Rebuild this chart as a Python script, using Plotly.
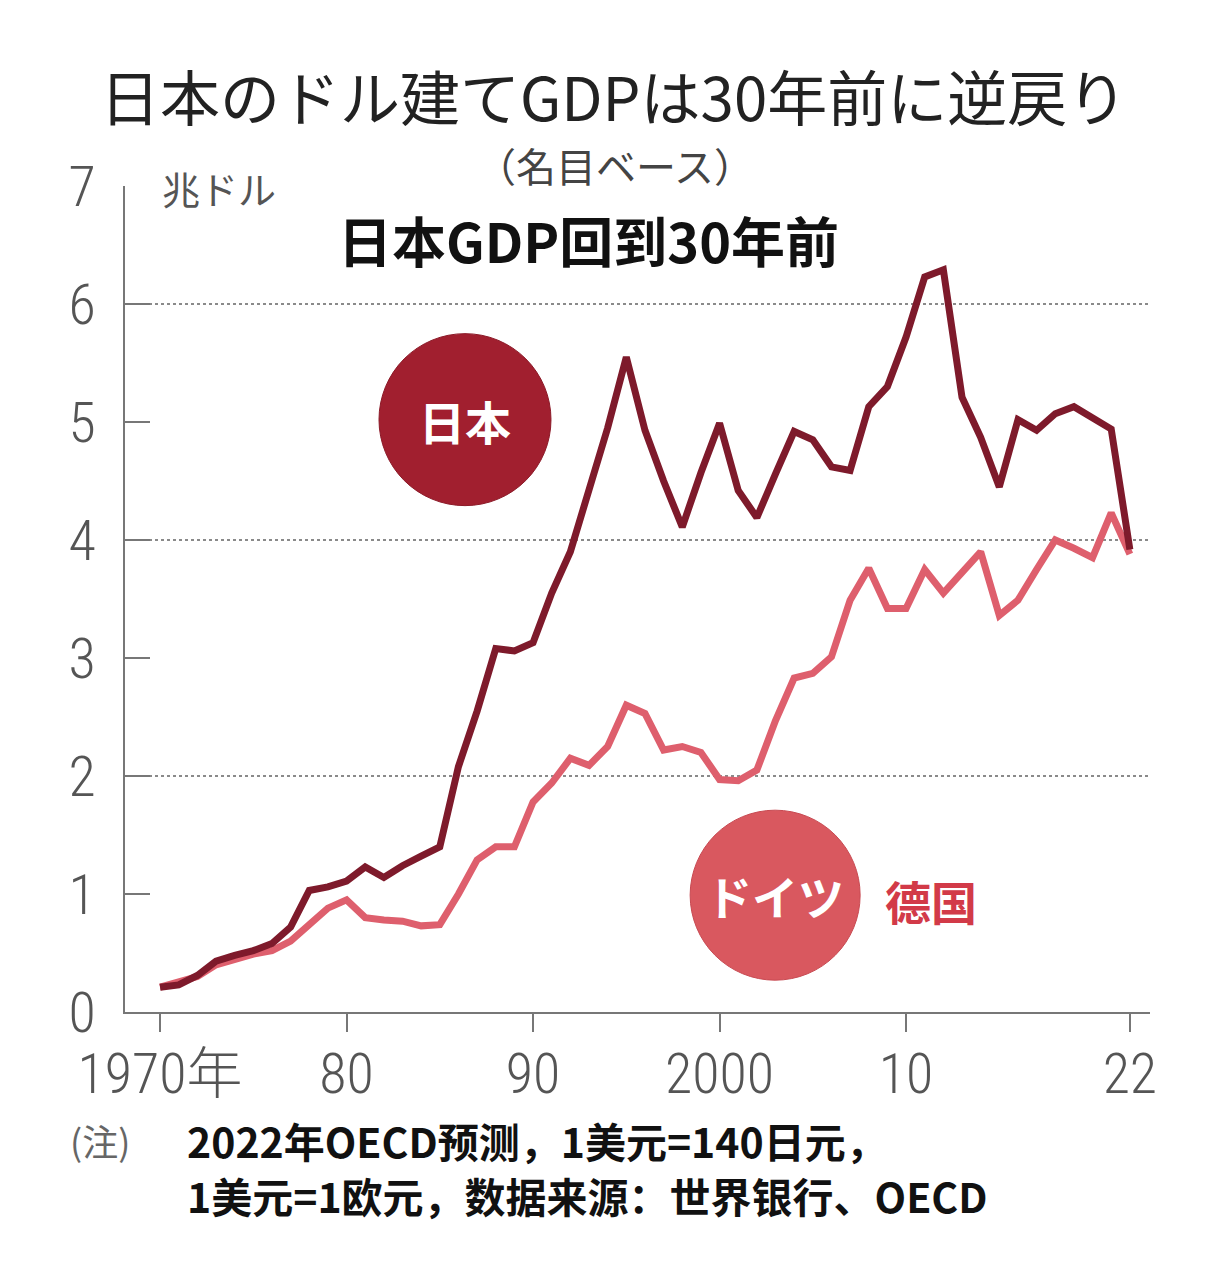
import plotly.graph_objects as go

years = list(range(1970, 2023))
japan = [0.21, 0.23, 0.31, 0.43, 0.48, 0.52, 0.58, 0.72, 1.03, 1.06,
         1.11, 1.23, 1.14, 1.24, 1.32, 1.40, 2.08, 2.55, 3.08, 3.06,
         3.13, 3.55, 3.90, 4.42, 4.95, 5.55, 4.93, 4.50, 4.11, 4.57,
         4.99, 4.42, 4.19, 4.56, 4.92, 4.85, 4.62, 4.59, 5.13, 5.30,
         5.72, 6.23, 6.29, 5.21, 4.87, 4.45, 5.02, 4.93, 5.07, 5.13,
         5.04, 4.94, 3.92]
germany = [0.21, 0.25, 0.30, 0.40, 0.45, 0.49, 0.52, 0.60, 0.74, 0.88,
           0.95, 0.80, 0.78, 0.77, 0.73, 0.74, 1.00, 1.29, 1.40, 1.40,
           1.78, 1.94, 2.15, 2.09, 2.25, 2.60, 2.53, 2.22, 2.25, 2.20,
           1.97, 1.96, 2.05, 2.47, 2.83, 2.87, 3.01, 3.49, 3.76, 3.42,
           3.42, 3.75, 3.55, 3.73, 3.90, 3.36, 3.49, 3.75, 4.00, 3.93,
           3.85, 4.23, 3.88]

x_tickvals = [1970, 1980, 1990, 2000, 2010, 2022]
x_ticktext = ["1970年", "80", "90", "2000", "10", "22"]
y_tickvals = [0, 1, 2, 3, 4, 5, 6, 7]
grid_vals = [2, 4, 6]

JP_LINE = "#7e1a2b"
DE_LINE = "#de5f6d"
JP_CIRC = "#a11f2f"
DE_CIRC = "#d9585f"
NUM_FONT = "Roboto Condensed, Noto Sans CJK JP, sans-serif"
JP_FONT = "Noto Sans CJK JP"
SC_FONT = "Noto Sans CJK SC"

fig = go.Figure()
fig.add_trace(go.Scatter(x=years, y=germany, mode="lines",
                         line=dict(color=DE_LINE, width=7), hoverinfo="skip"))
fig.add_trace(go.Scatter(x=years, y=japan, mode="lines",
                         line=dict(color=JP_LINE, width=7), hoverinfo="skip"))

shapes = []
for g in grid_vals:
    shapes.append(dict(type="line", xref="paper", yref="y", x0=0, x1=1, y0=g, y1=g,
                       line=dict(color="#8a8a8a", width=2, dash="dot"), layer="below"))
shapes.append(dict(type="circle", xref="x", yref="y", xsizemode="pixel", ysizemode="pixel",
                   xanchor=1986.35, yanchor=5.02, x0=-86, x1=86, y0=-86, y1=86,
                   fillcolor=JP_CIRC, line=dict(color="#8c1a28", width=1)))
shapes.append(dict(type="circle", xref="x", yref="y", xsizemode="pixel", ysizemode="pixel",
                   xanchor=2002.98, yanchor=0.99, x0=-85, x1=85, y0=-85, y1=85,
                   fillcolor=DE_CIRC, line=dict(color="#c84a52", width=1)))

annotations = [
    dict(text="日本のドル建てGDPは30年前に逆戻り", x=0.477, y=1.111, xref="paper", yref="paper",
         showarrow=False, font=dict(family=JP_FONT, size=60, color="#222"), xanchor="center", yanchor="middle"),
    dict(text="（名目ベース）", x=0.478, y=1.026, xref="paper", yref="paper",
         showarrow=False, font=dict(family=JP_FONT, size=40, color="#444"), xanchor="center", yanchor="middle"),
    dict(text="<b>日本GDP回到30年前</b>", x=0.452, y=0.935, xref="paper", yref="paper",
         showarrow=False, font=dict(family=SC_FONT, size=54, color="#111"), xanchor="center", yanchor="middle"),
    dict(text="兆ドル", x=0.034, y=0.998, xref="paper", yref="paper",
         showarrow=False, font=dict(family=JP_FONT, size=38, color="#555"), xanchor="left", yanchor="middle"),
    dict(text="<b>日本</b>", x=1986.35, y=5.02, xref="x", yref="y",
         showarrow=False, font=dict(family=JP_FONT, size=46, color="white"), xanchor="center", yanchor="middle"),
    dict(text="<b>ドイツ</b>", x=2002.98, y=0.99, xref="x", yref="y",
         showarrow=False, font=dict(family=JP_FONT, size=46, color="white"), xanchor="center", yanchor="middle"),
    dict(text="<b>德国</b>", x=2011.34, y=0.95, xref="x", yref="y",
         showarrow=False, font=dict(family=SC_FONT, size=46, color="#d23a48"), xanchor="center", yanchor="middle"),
    dict(text="(注)", x=-0.056, y=-0.155, xref="paper", yref="paper",
         showarrow=False, font=dict(family=JP_FONT, size=36, color="#666"), xanchor="left", yanchor="middle"),
    dict(text="<b>2022年OECD预测，1美元=140日元，</b>", x=0.0585, y=-0.155, xref="paper", yref="paper",
         showarrow=False, font=dict(family=SC_FONT, size=41, color="#111"), xanchor="left", yanchor="middle"),
    dict(text="<b>1美元=1欧元，数据来源：世界银行、OECD</b>", x=0.0585, y=-0.221, xref="paper", yref="paper",
         showarrow=False, font=dict(family=SC_FONT, size=41, color="#111"), xanchor="left", yanchor="middle"),
]

fig.update_layout(
    width=1224, height=1280,
    margin=dict(l=117, r=82, t=178, b=276),
    paper_bgcolor="white", plot_bgcolor="white",
    showlegend=False,
    shapes=shapes, annotations=annotations,
    xaxis=dict(range=[1968.12, 2023.08], showgrid=False, zeroline=False,
               showline=True, linecolor="#777", linewidth=2,
               ticks="outside", ticklen=18, tickwidth=2, tickcolor="#777",
               tickvals=x_tickvals, ticktext=x_ticktext, ticklabelstandoff=-6,
               tickfont=dict(family=NUM_FONT, size=56, color="#555", weight=300)),
    yaxis=dict(range=[0, 7], showgrid=False, zeroline=False,
               showline=True, linecolor="#777", linewidth=2,
               ticks="inside", ticklen=25, tickwidth=2, tickcolor="#777",
               tickvals=y_tickvals, ticklabelstandoff=16,
               tickfont=dict(family=NUM_FONT, size=56, color="#555", weight=300)),
)

fig.write_html("out.html")
